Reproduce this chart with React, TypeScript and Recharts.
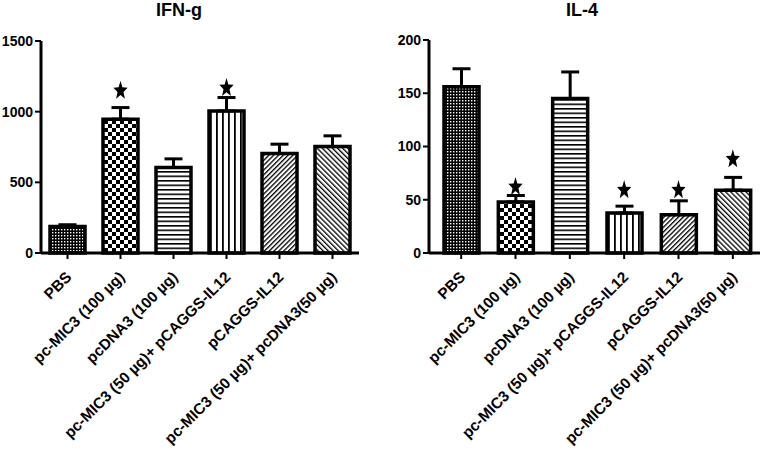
import React from "react";
import { ComposedChart, Bar, Cell, ErrorBar, Scatter, XAxis, YAxis } from "recharts";

// Treatment groups (same for both panels)
const groups = [
  "PBS",
  "pc-MIC3 (100 µg)",
  "pcDNA3 (100 µg)",
  "pc-MIC3 (50 µg)+  pCAGGS-IL12",
  "pCAGGS-IL12",
  "pc-MIC3 (50 µg)+ pcDNA3(50 µg)",
];

// IFN-g panel
const ifnMean = [188, 947, 605, 1005, 704, 753];
const ifnErr = [12, 82, 61, 95, 66, 76];
const ifnStar = [null, 1155, null, 1175, null, null];
const ifnTicks = [0, 500, 1000, 1500];

// IL-4 panel
const il4Mean = [156, 48, 145, 37.5, 36, 59];
const il4Err = [17, 6, 25, 6.5, 13, 12];
const il4Star = [null, 63, null, 60, 60, 89];
const il4Ticks = [0, 50, 100, 150, 200];

const FONT = "'Liberation Sans', Arial, sans-serif";
const patternIds = ["pDots", "pCheck", "pHoriz", "pVert", "pFwd", "pBack"];

const build = (mean: number[], err: number[], star: (number | null)[]) =>
  groups.map((name, i) => ({ name, mean: mean[i], err: [0, err[i]], star: star[i] }));

const StarShape = (props: any) => {
  const { cx, cy, payload } = props;
  if (payload == null || payload.star == null || !Number.isFinite(cy)) return null;
  const pts: string[] = [];
  for (let i = 0; i < 10; i++) {
    const r = i % 2 === 0 ? 1 : 0.42;
    const a = -Math.PI / 2 + (i * Math.PI) / 5;
    pts.push(`${cx + r * 7.5 * Math.cos(a)},${cy + 1 + r * 10 * Math.sin(a)}`);
  }
  return <polygon points={pts.join(" ")} fill="#000" />;
};

const CatTick = (props: any) => {
  const { x, y, payload } = props;
  return (
    <g transform={`translate(${x + 5},${y + 17}) rotate(-45)`}>
      <text
        x={0}
        y={0}
        textAnchor="end"
        fill="#000"
        fontSize={15.3}
        fontWeight="bold"
        fontFamily={FONT}
      >
        {payload.value}
      </text>
    </g>
  );
};

const Patterns = () => (
  <svg width={0} height={0} style={{ position: "absolute" }}>
    <defs>
      <pattern id="pDots" width={3} height={3} patternUnits="userSpaceOnUse">
        <rect width={3} height={3} fill="#000" />
        <rect x={1} y={1} width={1.4} height={1.4} fill="#fff" />
      </pattern>
      <pattern id="pCheck" width={8} height={8} patternUnits="userSpaceOnUse">
        <rect width={8} height={8} fill="#fff" />
        <rect width={4} height={4} fill="#000" />
        <rect x={4} y={4} width={4} height={4} fill="#000" />
      </pattern>
      <pattern id="pHoriz" width={5} height={4.5} patternUnits="userSpaceOnUse">
        <rect width={5} height={4.5} fill="#fff" />
        <rect width={5} height={1.6} fill="#000" />
      </pattern>
      <pattern id="pVert" width={6} height={6} patternUnits="userSpaceOnUse">
        <rect width={6} height={6} fill="#fff" />
        <rect width={1.8} height={6} fill="#000" />
      </pattern>
      <pattern id="pFwd" width={3.4} height={3.4} patternUnits="userSpaceOnUse" patternTransform="rotate(45)">
        <rect width={3.4} height={3.4} fill="#fff" />
        <rect width={1.3} height={3.4} fill="#000" />
      </pattern>
      <pattern id="pBack" width={3.6} height={3.6} patternUnits="userSpaceOnUse" patternTransform="rotate(-45)">
        <rect width={3.6} height={3.6} fill="#fff" />
        <rect width={1.3} height={3.6} fill="#000" />
      </pattern>
    </defs>
  </svg>
);

type PanelProps = {
  title: string;
  data: any[];
  ticks: number[];
  width: number;
  left: number;
  yWidth: number;
  top: number;
  rightMargin: number;
  padLeft: number;
  titleX: number;
};

const Panel = ({ title, data, ticks, width, left, yWidth, top, rightMargin, padLeft, titleX }: PanelProps) => (
  <div style={{ position: "absolute", left, top: 0, width, height: 454 }}>
    <div
      style={{
        position: "absolute",
        left: titleX - 60,
        width: 120,
        top: 0,
        textAlign: "center",
        fontFamily: FONT,
        fontWeight: "bold",
        fontSize: 18,
      }}
    >
      {title}
    </div>
    <ComposedChart
      width={width}
      height={454}
      data={data}
      margin={{ top, right: rightMargin, left: 0, bottom: 0 }}
      barCategoryGap={0}
    >
      <XAxis
        dataKey="name"
        interval={0}
        height={201}
        padding={{ left: padLeft, right: 0 }}
        axisLine={{ stroke: "#000", strokeWidth: 3 }}
        tickLine={{ stroke: "#000", strokeWidth: 2 }}
        tickSize={6}
        tickMargin={2}
        tick={<CatTick />}
      />
      <YAxis
        width={yWidth}
        domain={[ticks[0], ticks[ticks.length - 1]]}
        ticks={ticks}
        interval={0}
        axisLine={{ stroke: "#000", strokeWidth: 3 }}
        tickLine={{ stroke: "#000", strokeWidth: 2 }}
        tickSize={6}
        tickMargin={2}
        tick={{ fill: "#000", fontSize: 14, fontWeight: "bold", fontFamily: FONT }}
      />
      <Bar dataKey="mean" barSize={35} stroke="#000" strokeWidth={3.5} isAnimationActive={false}>
        {data.map((_, i) => (
          <Cell key={i} fill={`url(#${patternIds[i]})`} />
        ))}
        <ErrorBar dataKey="err" width={9} stroke="#000" strokeWidth={3} isAnimationActive={false} />
      </Bar>
      <Scatter dataKey="star" shape={<StarShape />} isAnimationActive={false} />
    </ComposedChart>
  </div>
);

const App = () => (
  <div style={{ position: "absolute", left: 0, top: 0, width: 764, height: 454, background: "#fff" }}>
    <Patterns />
    <Panel
      title="IFN-g"
      data={build(ifnMean, ifnErr, ifnStar)}
      ticks={ifnTicks}
      width={380}
      left={0}
      yWidth={41}
      top={41}
      rightMargin={21}
      padLeft={0}
      titleX={179}
    />
    <Panel
      title="IL-4"
      data={build(il4Mean, il4Err, il4Star)}
      ticks={il4Ticks}
      width={384}
      left={380}
      yWidth={49}
      top={40}
      rightMargin={4}
      padLeft={5}
      titleX={202}
    />
  </div>
);

export default App;
